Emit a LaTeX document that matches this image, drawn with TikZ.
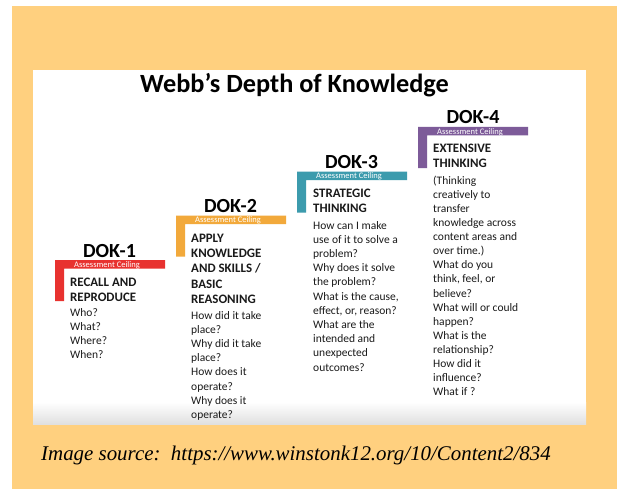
\documentclass[tikz,border=0pt]{standalone}
\usepackage{fontspec}
\setmainfont{Carlito}
\newfontfamily\capfont{Liberation Serif}
\definecolor{bgorange}{HTML}{FFD07F}
\definecolor{dokred}{HTML}{E8322F}
\definecolor{dokorange}{HTML}{F2A93B}
\definecolor{dokteal}{HTML}{3C9BAD}
\definecolor{dokpurple}{HTML}{7D5B99}
\definecolor{inktext}{HTML}{1A1A1A}
\definecolor{panelgray}{HTML}{E0E0E0}
\tikzset{
  dokhead/.style={anchor=base, inner sep=0pt, text=black, font=\fontsize{20}{24}\selectfont\bfseries},
  ceiltxt/.style={anchor=base, inner sep=0pt, text=white, font=\fontsize{8.5}{10}\selectfont},
  headtxt/.style={anchor=base west, inner sep=0pt, text=inktext, font=\fontsize{12.9}{15}\selectfont\bfseries},
  bodytxt/.style={anchor=base west, inner sep=0pt, text=inktext, font=\fontsize{11.5}{14}\selectfont},
}
% bracket: #1 colour, #2 left x, #3 top y
\newcommand{\dokbracket}[3]{%
  \fill[#1] (#2,#3) -- ({#2+110},#3) -- ({#2+110},{#3+8.5}) -- ({#2+9},{#3+8.5}) -- ({#2+9},{#3+41}) -- (#2,{#3+41}) -- cycle;}
\begin{document}
\begin{tikzpicture}[x=1pt,y=-1pt]
\useasboundingbox (0,0) rectangle (617,489);
\fill[white] (0,0) rectangle (617,489);
\fill[bgorange] (12,6) rectangle (617,489);
\fill[white] (33,70) rectangle (586,424);
\shade[top color=white, bottom color=panelgray] (33,402) rectangle (586,424);

\node[anchor=base, inner sep=0pt, font=\fontsize{26.3}{30}\selectfont\bfseries] (title) at (294.5,92.5) {Webb’s Depth of Knowledge};

% DOK-1
\dokbracket{dokred}{55}{260}
\node[dokhead] (d1) at (109.5,257) {DOK-1};
\node[ceiltxt] (c1) at (107,267.3) {Assessment Ceiling};
\foreach \txt [count=\i] in {{RECALL AND},{REPRODUCE}}
  \node[headtxt] (d1h\i) at (70,{286.5+15.2*(\i-1)}) {\txt};
\foreach \txt [count=\i] in {{Who?},{What?},{Where?},{When?}}
  \node[bodytxt] (d1b\i) at (70,{316+14.2*(\i-1)}) {\txt};

% DOK-2
\dokbracket{dokorange}{176}{215.5}
\node[dokhead] (d2) at (230.5,212.5) {DOK-2};
\node[ceiltxt] (c2) at (228,222.8) {Assessment Ceiling};
\foreach \txt [count=\i] in {{APPLY},{KNOWLEDGE},{AND SKILLS /},{BASIC},{REASONING}}
  \node[headtxt] (d2h\i) at (191,{242+15.4*(\i-1)}) {\txt};
\foreach \txt [count=\i] in {{How did it take},{place?},{Why did it take},{place?},{How does it},{operate?},{Why does it},{operate?}}
  \node[bodytxt] (d2b\i) at (191,{319+14.2*(\i-1)}) {\txt};

% DOK-3
\dokbracket{dokteal}{297}{171.5}
\node[dokhead] (d3) at (351.5,168.5) {DOK-3};
\node[ceiltxt] (c3) at (349,178.8) {Assessment Ceiling};
\foreach \txt [count=\i] in {{STRATEGIC},{THINKING}}
  \node[headtxt] (d3h\i) at (313,{197.5+15.2*(\i-1)}) {\txt};
\foreach \txt [count=\i] in {{How can I make},{use of it to solve a},{problem?},{Why does it solve},{the problem?},{What is the cause,},{effect, or, reason?},{What are the},{intended and},{unexpected},{outcomes?}}
  \node[bodytxt] (d3b\i) at (313,{229+14.2*(\i-1)}) {\txt};

% DOK-4
\dokbracket{dokpurple}{418}{127}
\node[dokhead] (d4) at (473,124) {DOK-4};
\node[ceiltxt] (c4) at (470,134.3) {Assessment Ceiling};
\foreach \txt [count=\i] in {{EXTENSIVE},{THINKING}}
  \node[headtxt] (d4h\i) at (433,{152.5+15.2*(\i-1)}) {\txt};
\foreach \txt [count=\i] in {{(Thinking},{creatively to},{transfer},{knowledge across},{content areas and},{over time.)},{What do you},{think, feel, or},{believe?},{What will or could},{happen?},{What is the},{relationship?},{How did it},{influence?},{What if ?}}
  \node[bodytxt] (d4b\i) at (433,{184+14.13*(\i-1)}) {\txt};

\node[anchor=base west, inner sep=0pt, text=black, font=\capfont\itshape\fontsize{20.9}{24}\selectfont] (src) at (41,460.5) {Image source:\ \ https://www.winstonk12.org/10/Content2/834};
\end{tikzpicture}
\end{document}
